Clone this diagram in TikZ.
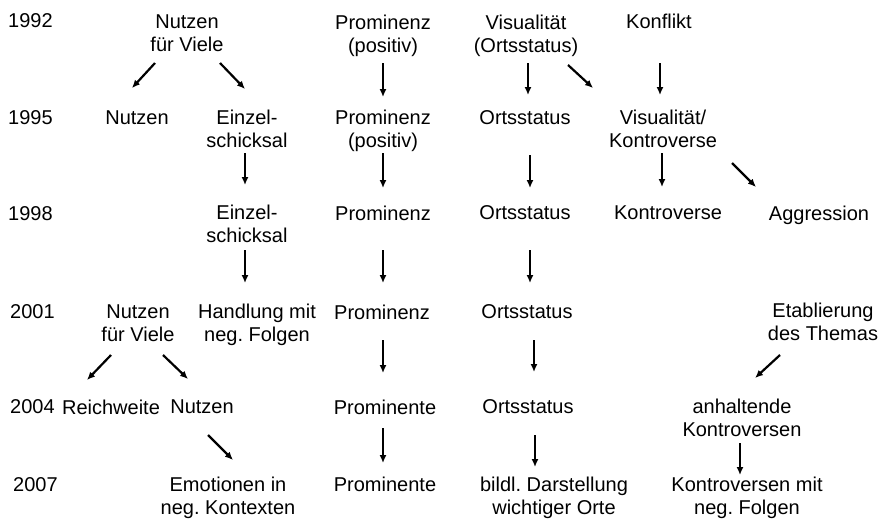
\documentclass[tikz,border=0pt]{standalone}
\usepackage{fontspec}
\setmainfont{Liberation Sans}
\usepackage{tikz}
\usetikzlibrary{arrows.meta}
\frenchspacing
\newcommand{\jnode}{\node[jahr]}
\newcommand{\tnode}{\node[txt]}
\begin{document}
\begin{tikzpicture}[x=1pt,y=-1pt,
    txt/.style={align=center,inner sep=0pt,font=\fontsize{20}{23}\selectfont},
    jahr/.style={txt,anchor=west},
    senk/.style={line width=1.5pt,-{Latex[length=8pt,width=7pt]}},
    schraeg/.style={line width=2.2pt,-{Latex[length=8pt,width=7pt]}}]
  \useasboundingbox (0,0) rectangle (888,520);
  % Jahre
  \jnode (j92) at (8,21) {1992};
  \jnode (j95) at (8,118) {1995};
  \jnode (j98) at (8,214) {1998};
  \jnode (j01) at (10,312) {2001};
  \jnode (j04) at (10,407) {2004};
  \jnode (j07) at (13,485) {2007};
  % 1992
  \tnode (nv92) at (187,33) {Nutzen\\für Viele};
  \tnode (pp92) at (383,35.5) {Prominenz\\(positiv)};
  \tnode (vo92) at (526,35.5) {Visualität\\(Ortsstatus)};
  \tnode (ko92) at (659,21) {Konflikt};
  % 1995
  \tnode (nu95) at (137,118) {Nutzen};
  \tnode (es95) at (247,129) {Einzel-\\schicksal};
  \tnode (pp95) at (383,131) {Prominenz\\(positiv)};
  \tnode (os95) at (525,118) {Ortsstatus};
  \tnode (vk95) at (663,129) {Visualität/\\Kontroverse};
  % 1998
  \tnode (es98) at (247,224) {Einzel-\\schicksal};
  \tnode (pr98) at (383,213) {Prominenz};
  \tnode (os98) at (525,213) {Ortsstatus};
  \tnode (ko98) at (668,213) {Kontroverse};
  \tnode (ag98) at (819,215) {Aggression};
  % 2001
  \tnode (nv01) at (138,323) {Nutzen\\für Viele};
  \tnode (hf01) at (257,325) {Handlung mit\\neg. Folgen};
  \tnode (pr01) at (382,312) {Prominenz};
  \tnode (os01) at (527,312) {Ortsstatus};
  \tnode (et01) at (823,322) {Etablierung\\des Themas};
  % 2004
  \tnode (rw04) at (111,407) {Reichweite};
  \tnode (nu04) at (202,407) {Nutzen};
  \tnode (pe04) at (385,407) {Prominente};
  \tnode (os04) at (528,407) {Ortsstatus};
  \tnode (ak04) at (742,418) {anhaltende\\Kontroversen};
  % 2007
  \tnode (ek07) at (228,498) {Emotionen in\\neg. Kontexten};
  \tnode (pe07) at (385,484) {Prominente};
  \tnode (bd07) at (554,498) {bildl. Darstellung\\wichtiger Orte};
  \tnode (kf07) at (747,498) {Kontroversen mit\\neg. Folgen};
  % Pfeile 1992 -> 1995
  \draw[schraeg] ([shift={(-32,30)}]nv92.center) -- ([shift={(-5,-30)}]nu95.center);
  \draw[schraeg] ([shift={(33,30)}]nv92.center) -- ([shift={(-2,-40)}]es95.center);
  \draw[senk] ([shift={(0,27.5)}]pp92.center) -- ([shift={(0,-34)}]pp95.center);
  \draw[senk] ([shift={(2,27.5)}]vo92.center) -- ([shift={(3,-23)}]os95.center);
  \draw[schraeg] ([shift={(42,29.5)}]vo92.center) -- ([shift={(-70,-41)}]vk95.center);
  \draw[senk] ([shift={(1,42)}]ko92.center) -- ([shift={(-3,-34)}]vk95.center);
  % 1995 -> 1998
  \draw[senk] ([shift={(-2,24)}]es95.center) -- ([shift={(-2,-39)}]es98.center);
  \draw[senk] ([shift={(0,22)}]pp95.center) -- ([shift={(0,-25)}]pr98.center);
  \draw[senk] ([shift={(5,37)}]os95.center) -- ([shift={(5,-25)}]os98.center);
  \draw[senk] ([shift={(-1,24)}]vk95.center) -- ([shift={(-6,-26)}]ko98.center);
  \draw[schraeg] ([shift={(69,34)}]vk95.center) -- ([shift={(-63,-28)}]ag98.center);
  % 1998 -> 2001
  \draw[senk] ([shift={(-2,26)}]es98.center) -- ([shift={(-12,-42)}]hf01.center);
  \draw[senk] ([shift={(0,37)}]pr98.center) -- ([shift={(1,-29)}]pr01.center);
  \draw[senk] ([shift={(5,37)}]os98.center) -- ([shift={(3,-29)}]os01.center);
  % 2001 -> 2004
  \draw[schraeg] ([shift={(-27,32)}]nv01.center) -- ([shift={(-24,-27)}]rw04.center);
  \draw[schraeg] ([shift={(25,32)}]nv01.center) -- ([shift={(-14,-28)}]nu04.center);
  \draw[senk] ([shift={(1,28)}]pr01.center) -- ([shift={(-2,-34)}]pe04.center);
  \draw[senk] ([shift={(7,28)}]os01.center) -- ([shift={(6,-35)}]os04.center);
  \draw[schraeg] ([shift={(-43,33)}]et01.center) -- ([shift={(13,-40)}]ak04.center);
  % 2004 -> 2007
  \draw[schraeg] ([shift={(6,28)}]nu04.center) -- ([shift={(5,-38)}]ek07.center);
  \draw[senk] ([shift={(-2,21)}]pe04.center) -- ([shift={(-2,-21)}]pe07.center);
  \draw[senk] ([shift={(7,28)}]os04.center) -- ([shift={(-19,-31)}]bd07.center);
  \draw[senk] ([shift={(-2,25)}]ak04.center) -- ([shift={(-7,-23)}]kf07.center);
\end{tikzpicture}
\end{document}
